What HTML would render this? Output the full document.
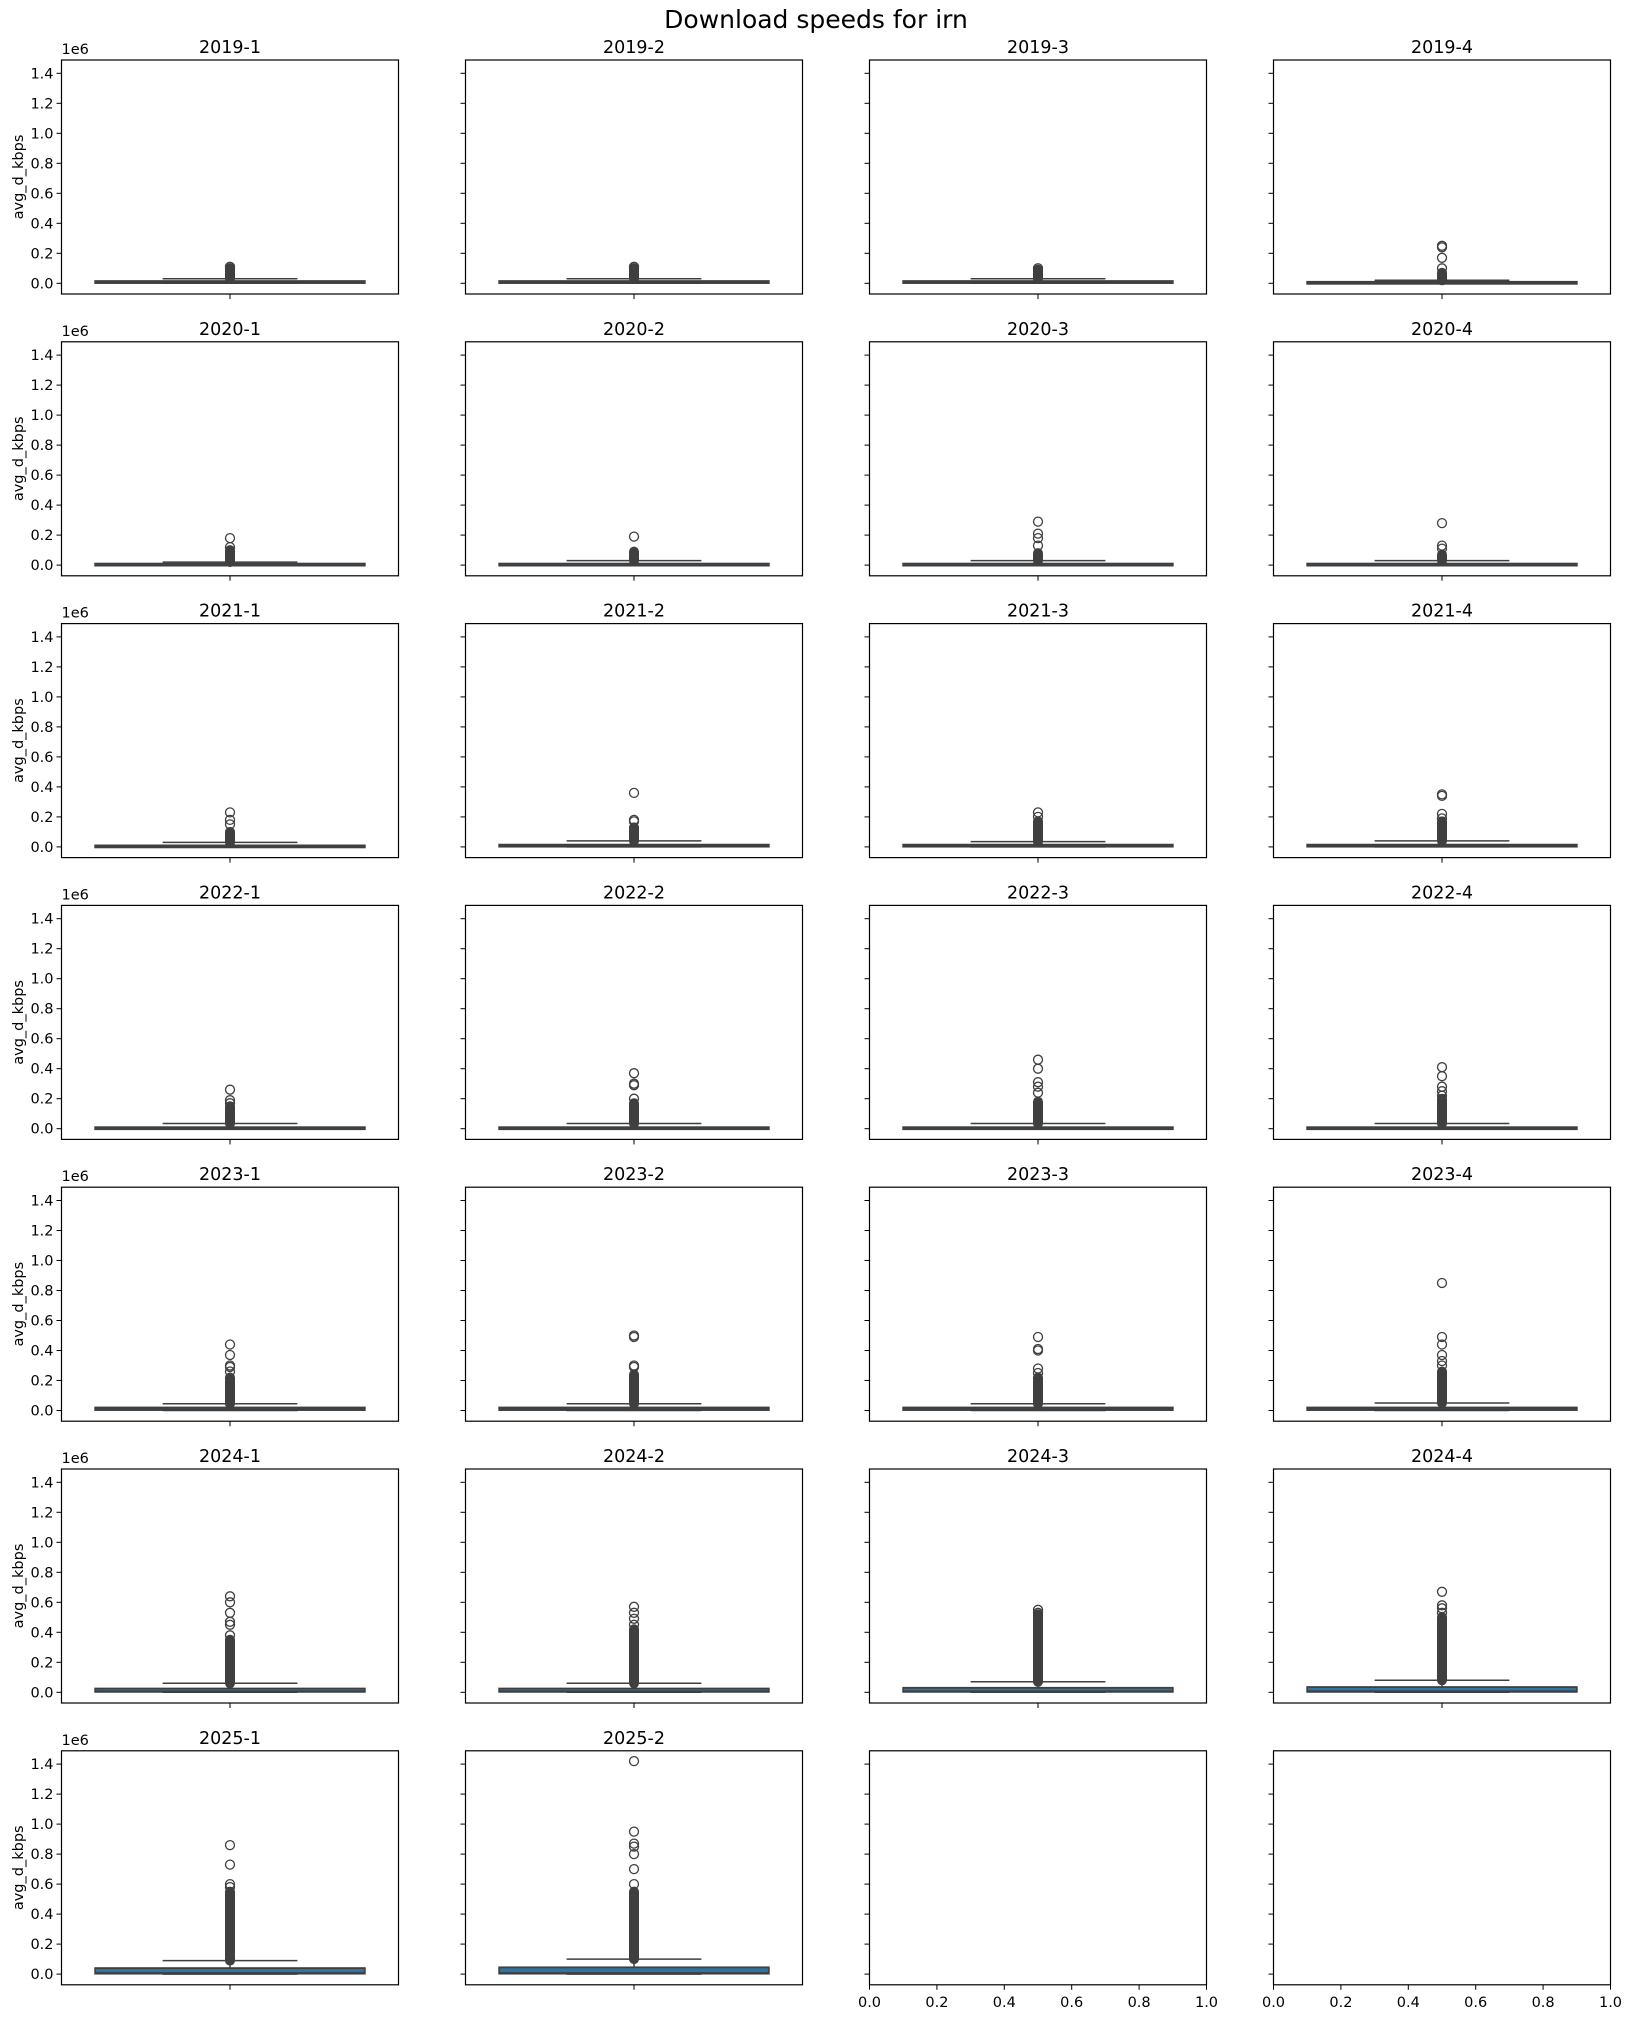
<!DOCTYPE html>
<html><head><meta charset="utf-8"><style>
html,body{margin:0;padding:0;background:#fff;}
svg text{font-family:"DejaVu Sans","Liberation Sans",sans-serif;fill:#000;}
</style></head><body>
<svg id="s" xmlns="http://www.w3.org/2000/svg" width="1632" height="2018" viewBox="0 0 1632 2018">
<text x="816" y="28" font-size="25" text-anchor="middle">Download speeds for irn</text>
</svg>
<script>
const S=document.getElementById('s');let h='';
const D=[
["2019-1",0.015,0.03,0.1,[0.11,0.1]],["2019-2",0.015,0.03,0.1,[0.11,0.1]],["2019-3",0.015,0.03,0.09,[0.1]],["2019-4",0.01,0.02,0.07,[0.25,0.24,0.17,0.1]],
["2020-1",0.01,0.02,0.1,[0.18,0.12]],["2020-2",0.01,0.03,0.09,[0.19]],["2020-3",0.01,0.03,0.08,[0.29,0.21,0.18,0.13]],["2020-4",0.01,0.03,0.07,[0.28,0.13,0.11]],
["2021-1",0.01,0.03,0.1,[0.23,0.18,0.15]],["2021-2",0.015,0.04,0.13,[0.36,0.18,0.17]],["2021-3",0.015,0.035,0.17,[0.23,0.2]],["2021-4",0.015,0.04,0.17,[0.35,0.34,0.22,0.19]],
["2022-1",0.01,0.035,0.15,[0.26,0.19,0.17]],["2022-2",0.01,0.035,0.17,[0.37,0.3,0.29,0.2]],["2022-3",0.01,0.035,0.18,[0.46,0.4,0.31,0.28,0.24]],["2022-4",0.01,0.035,0.2,[0.41,0.35,0.28,0.25,0.22]],
["2023-1",0.02,0.045,0.22,[0.44,0.37,0.3,0.29,0.26]],["2023-2",0.02,0.045,0.24,[0.5,0.49,0.3,0.29]],["2023-3",0.02,0.045,0.22,[0.49,0.41,0.4,0.28,0.25]],["2023-4",0.02,0.05,0.26,[0.85,0.49,0.44,0.37,0.33,0.3]],
["2024-1",0.025,0.06,0.35,[0.64,0.6,0.53,0.47,0.45,0.38]],["2024-2",0.025,0.06,0.42,[0.57,0.53,0.49,0.45]],["2024-3",0.03,0.07,0.52,[0.55,0.53]],["2024-4",0.035,0.08,0.5,[0.67,0.58,0.56,0.53]],
["2025-1",0.04,0.09,0.55,[0.86,0.73,0.6,0.58]],["2025-2",0.045,0.1,0.55,[1.42,0.95,0.87,0.85,0.8,0.7,0.6]]
];
const W=337,H=234;
for(let i=0;i<28;i++){
 const r=Math.floor(i/4),c=i%4;
 const L=61.5+c*404,T=60+r*281.8,B=T+H,R=L+W,cx=L+W/2;
 const y=v=>T+223.3-v*150;
 for(let k=0;k<=7;k++){const v=k*0.2,yy=y(v);
  h+=`<line x1="${L-5}" y1="${yy}" x2="${L}" y2="${yy}" stroke="#000" stroke-width="1"/>`;
  if(c==0)h+=`<text x="${L-8}" y="${yy+5}" font-size="14.5" text-anchor="end">${v.toFixed(1)}</text>`;}
 if(c==0){h+=`<text x="${L}" y="${T-6}" font-size="14.5">1e6</text>`;
  h+=`<text transform="translate(23,${T+H/2}) rotate(-90)" font-size="14.5" text-anchor="middle">avg_d_kbps</text>`;}
 const d=D[i];
 if(d){
  h+=`<text x="${cx}" y="${T-7}" font-size="17.5" text-anchor="middle">${d[0]}</text>`;
  h+=`<line x1="${cx}" y1="${B}" x2="${cx}" y2="${B+5}" stroke="#000"/>`;
  const q3=d[1],wt=d[2],dt=d[3];
  const bL=L+W*0.1,bR=L+W*0.9,wL=L+W*0.3,wR=L+W*0.7;
  h+=`<line x1="${cx}" y1="${y(0)}" x2="${cx}" y2="${y(wt)}" stroke="#3f3f3f" stroke-width="1.5"/>`;
  h+=`<line x1="${wL}" y1="${y(wt)}" x2="${wR}" y2="${y(wt)}" stroke="#3f3f3f" stroke-width="1.5"/>`;
  h+=`<line x1="${wL}" y1="${y(0)}" x2="${wR}" y2="${y(0)}" stroke="#3f3f3f" stroke-width="1.5"/>`;
  const bt=y(q3),bb=y(0.003);
  h+=`<rect x="${bL}" y="${bt}" width="${bR-bL}" height="${Math.max(bb-bt,2)}" fill="#3274a1" stroke="#3f3f3f" stroke-width="1.8"/>`;
  h+=`<line x1="${bL}" y1="${y(0.008)}" x2="${bR}" y2="${y(0.008)}" stroke="#3f3f3f" stroke-width="1.5"/>`;
  h+=`<rect x="${cx-5}" y="${y(dt)-5}" width="10" height="${y(wt)-y(dt)+10}" rx="5" fill="#3f3f3f"/>`;
  for(const o of d[4])h+=`<circle cx="${cx}" cy="${y(o)}" r="4.5" fill="none" stroke="#3f3f3f" stroke-width="1.3"/>`;
 } else {
  for(let k=0;k<=5;k++){const xx=L+W*k/5;
   h+=`<line x1="${xx}" y1="${B}" x2="${xx}" y2="${B+5}" stroke="#000"/>`;
   h+=`<text x="${xx}" y="${B+22}" font-size="14.5" text-anchor="middle">${(k*0.2).toFixed(1)}</text>`;}
 }
 h+=`<rect x="${L}" y="${T}" width="${W}" height="${H}" fill="none" stroke="#000" stroke-width="1.2"/>`;
}
S.insertAdjacentHTML('beforeend',h);
</script>
</body></html>
